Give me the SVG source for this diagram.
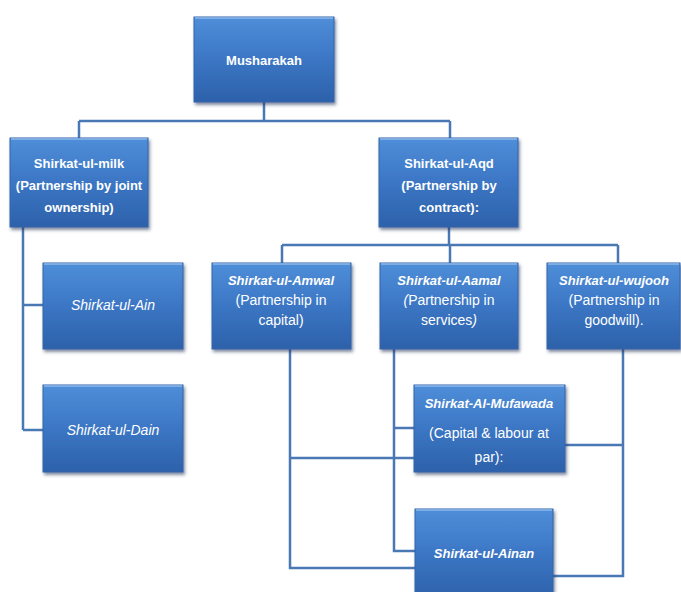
<svg xmlns="http://www.w3.org/2000/svg" width="681" height="592" viewBox="0 0 681 592">
<defs>
<linearGradient id="g" x1="0" y1="0" x2="0" y2="1">
<stop offset="0" stop-color="#4f8ed9"/>
<stop offset="0.5" stop-color="#3b76c4"/>
<stop offset="1" stop-color="#2d61aa"/>
</linearGradient>
<filter id="sh" x="-10%" y="-10%" width="125%" height="130%">
<feDropShadow dx="1.5" dy="2.5" stdDeviation="1.8" flood-color="#1a2f55" flood-opacity="0.55"/>
</filter>
</defs>
<style>
.box{fill:url(#g);stroke:#3465a8;stroke-width:1;filter:url(#sh)}
.hl{stroke:#8fb8ea;stroke-width:1.5}
.c{fill:none;stroke:#4a78b5;stroke-width:2.5;stroke-linejoin:miter}
text{font-family:"Liberation Sans",Arial,sans-serif;fill:#ffffff;text-anchor:middle}
.b{font-weight:bold;font-size:13px}
.bi{font-weight:bold;font-style:italic;font-size:13px}
.i{font-style:italic;font-size:14px}
.r{font-size:14px}
</style>
<rect width="681" height="592" fill="#ffffff"/>
<g id="connectors">
<path class="c" d="M264 102V121M79 121H450M79 121V138M450 121V138"/>
<path class="c" d="M23 227V430M23 305H43M23 430H43"/>
<path class="c" d="M449 227V245M282 245H618M282 245V263M450 245V263M618 245V263"/>
<path class="c" d="M290 349V568H415M290 458H414"/>
<path class="c" d="M394 349V551H415M394 428H414"/>
<path class="c" d="M623 349V576H553M623 445H565"/>
</g>
<g id="musharakah">
<rect class="box" x="194" y="17" width="140" height="85"/>
<line class="hl" x1="195" y1="18" x2="333" y2="18"/>
<text class="b" x="264" y="65">Musharakah</text>
</g>
<g id="milk">
<rect class="box" x="10" y="138" width="138" height="89"/>
<line class="hl" x1="11" y1="139" x2="147" y2="139"/>
<text class="b" x="79" y="168">Shirkat-ul-milk</text>
<text class="b" x="79" y="190">(Partnership by joint</text>
<text class="b" x="79" y="212">ownership)</text>
</g>
<g id="aqd">
<rect class="box" x="379" y="138" width="139" height="89"/>
<line class="hl" x1="380" y1="139" x2="517" y2="139"/>
<text class="b" x="449" y="168">Shirkat-ul-Aqd</text>
<text class="b" x="449" y="190">(Partnership by</text>
<text class="b" x="449" y="212">contract):</text>
</g>
<g id="ain">
<rect class="box" x="43" y="263" width="140" height="86"/>
<line class="hl" x1="44" y1="264" x2="182" y2="264"/>
<text class="i" x="113" y="310">Shirkat-ul-Ain</text>
</g>
<g id="dain">
<rect class="box" x="43" y="385" width="140" height="87"/>
<line class="hl" x1="44" y1="386" x2="182" y2="386"/>
<text class="i" x="113" y="435">Shirkat-ul-Dain</text>
</g>
<g id="amwal">
<rect class="box" x="212" y="263" width="139" height="86"/>
<line class="hl" x1="213" y1="264" x2="350" y2="264"/>
<text class="bi" x="281" y="285">Shirkat-ul-Amwal</text>
<text class="r" x="281" y="305">(Partnership in</text>
<text class="r" x="281" y="325">capital)</text>
</g>
<g id="aamal">
<rect class="box" x="380" y="263" width="138" height="86"/>
<line class="hl" x1="381" y1="264" x2="517" y2="264"/>
<text class="bi" x="449" y="285">Shirkat-ul-Aamal</text>
<text class="r" x="449" y="305"><tspan font-style="italic">(</tspan>Partnership in</text>
<text class="r" x="449" y="325">services<tspan font-style="italic">)</tspan></text>
</g>
<g id="wujooh">
<rect class="box" x="547" y="263" width="133" height="86"/>
<line class="hl" x1="548" y1="264" x2="679" y2="264"/>
<text class="bi" x="614" y="285">Shirkat-ul-wujooh</text>
<text class="r" x="614" y="305">(Partnership in</text>
<text class="r" x="614" y="325">goodwill).</text>
</g>
<g id="mufawada">
<rect class="box" x="414" y="385" width="151" height="87"/>
<line class="hl" x1="415" y1="386" x2="564" y2="386"/>
<text class="bi" x="489" y="408">Shirkat-Al-Mufawada</text>
<text class="r" x="489" y="438">(Capital &amp; labour at</text>
<text class="r" x="489" y="462">par):</text>
</g>
<g id="ainan">
<rect class="box" x="415" y="509" width="138" height="90"/>
<line class="hl" x1="416" y1="510" x2="552" y2="510"/>
<text class="bi" x="484" y="558">Shirkat-ul-Ainan</text>
</g>
</svg>
